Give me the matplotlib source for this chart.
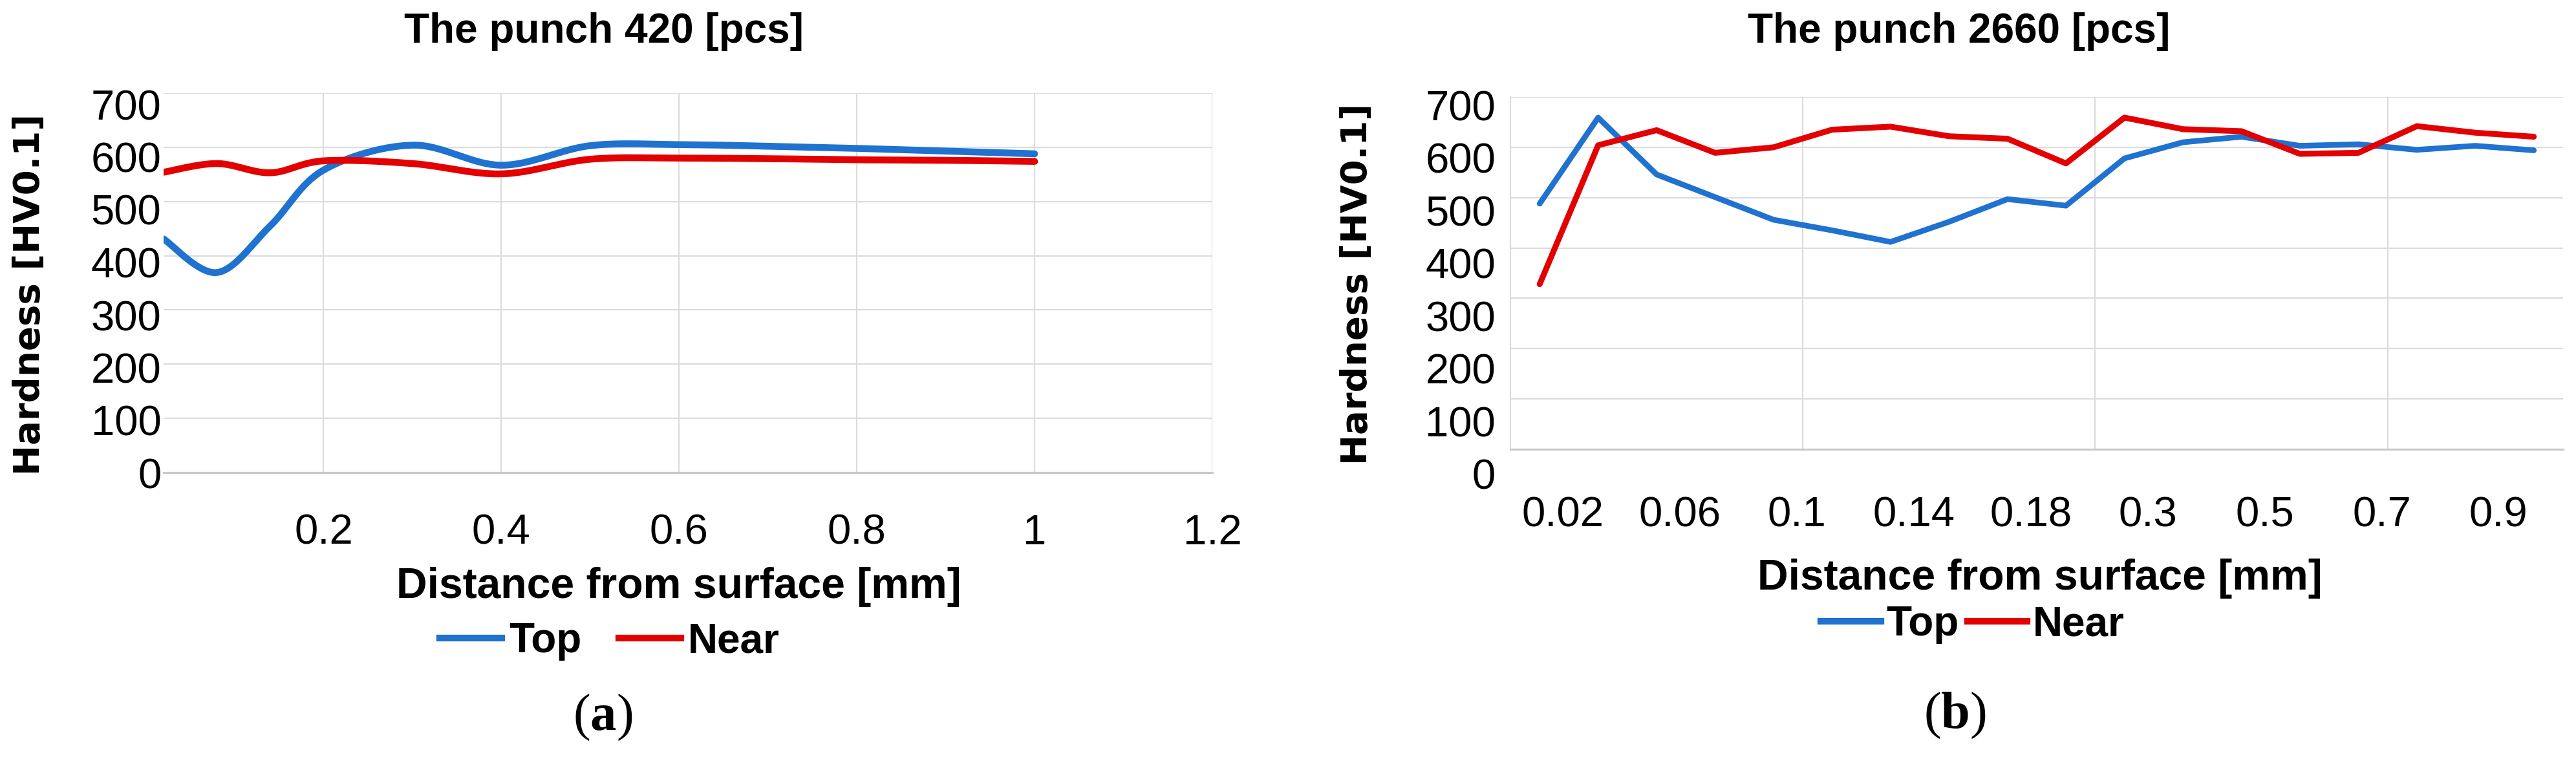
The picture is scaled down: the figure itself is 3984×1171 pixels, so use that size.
import numpy as np
import matplotlib
matplotlib.use('Agg')
import matplotlib.pyplot as plt
from matplotlib.lines import Line2D
import matplotlib.transforms as mtransforms

W, H = 3984, 1171
DPI = 100

# ---------------- data ----------------
left_x = [0.02, 0.08, 0.14, 0.2, 0.3, 0.4, 0.5, 0.6, 0.7, 0.8, 0.9, 1.0]
left_top = [431, 369, 455, 558, 604, 567, 603, 605, 602, 598, 593, 588]
left_near = [554, 570, 553, 575, 570, 551, 578, 580, 579, 577, 576, 574]

right_cats = ['0.02', '0.04', '0.06', '0.08', '0.1', '0.12', '0.14', '0.16', '0.18',
              '0.2', '0.3', '0.4', '0.5', '0.6', '0.7', '0.8', '0.9', '1']
right_top = [488, 659, 546, 501, 456, 435, 412, 452, 497, 484, 578, 610, 621, 603, 606, 595, 603, 594]
right_near = [328, 604, 634, 589, 600, 635, 641, 622, 617, 568, 659, 636, 632, 587, 589, 642, 629, 621]

left_xticks = [0.2, 0.4, 0.6, 0.8, 1.0, 1.2]
left_xticklabels = ['0.2', '0.4', '0.6', '0.8', '1', '1.2']
y_ticks = [0, 100, 200, 300, 400, 500, 600, 700]

titles = ['The punch 420 [pcs]', 'The punch 2660 [pcs]']
ylabel = 'Hardness [HV0.1]'
xlabel = 'Distance from surface [mm]'
series_names = ['Top', 'Near']
captions = ['a', 'b']

BLUE = '#1f72cf'
RED = '#e30000'
GRID = '#dcdcdc'
AXIS = '#c9c9c9'

plt.rcParams['mathtext.fontset'] = 'custom'
plt.rcParams['mathtext.rm'] = 'Liberation Serif'
plt.rcParams['mathtext.bf'] = 'Liberation Serif:bold'

SANS = ['Liberation Sans', 'DejaVu Sans']

fig = plt.figure(figsize=(W / DPI, H / DPI), dpi=DPI)
fig.patch.set_facecolor('white')


def px_axes(x0, y0, x1, y1, **kw):
    return fig.add_axes([x0 / W, 1 - y1 / H, (x1 - x0) / W, (y1 - y0) / H], **kw)


def smooth(x, y, sx, sy, n=60):
    """Excel-like smoothed line (Bezier through the points)."""
    P = np.column_stack([np.asarray(x, float) * sx, np.asarray(y, float) * sy])
    E = np.vstack([P[0], P, P[-1]])
    out = []
    for i in range(len(P) - 1):
        p0, p1, p2, p3 = E[i], E[i + 1], E[i + 2], E[i + 3]
        c1 = p1 + (p2 - p0) / 6
        c2 = p2 - (p3 - p1) / 6
        t = np.linspace(0, 1, n)[:, None]
        b = (1 - t) ** 3 * p1 + 3 * (1 - t) ** 2 * t * c1 + 3 * (1 - t) * t ** 2 * c2 + t ** 3 * p2
        out.append(b)
    B = np.vstack(out)
    return B[:, 0] / sx, B[:, 1] / sy


def style_axes(ax):
    for s in ['top', 'right', 'left']:
        ax.spines[s].set_visible(False)
    ax.spines['bottom'].set_color(AXIS)
    ax.spines['bottom'].set_linewidth(2.2)
    ax.tick_params(length=0)
    ax.set_ylim(0, 700)
    ax.set_yticks(y_ticks)
    ax.yaxis.grid(True, color=GRID, linewidth=1.6)
    ax.set_axisbelow(True)
    ax.tick_params(axis='y', labelleft=False)


def label_axes(x0, y0, x1, y1, pad):
    la = px_axes(x0, y0, x1, y1, frameon=False)
    la.set_ylim(0, 700)
    la.set_yticks(y_ticks)
    la.set_xticks([])
    la.tick_params(length=0, pad=pad, labelsize=47)
    for t in la.get_yticklabels():
        t.set_family(SANS)
    la.patch.set_visible(False)
    return la


# ---------------- left panel ----------------
ax1 = px_axes(253, 144, 1875, 731)
style_axes(ax1)
ax1.set_xlim(0.02, 1.2)
ax1.set_xticks(left_xticks)
ax1.set_xticklabels(left_xticklabels)
ax1.xaxis.grid(True, color=GRID, linewidth=1.6)
ax1.tick_params(axis='x', pad=46, labelsize=47)
for t in ax1.get_xticklabels():
    t.set_family(SANS)
sx, sy = 1375.0, 0.838
xt, yt = smooth(left_x, left_top, sx, sy)
xn, yn = smooth(left_x, left_near, sx, sy)
ax1.plot(xt, yt, color=BLUE, lw=7.6, solid_capstyle='round', solid_joinstyle='round', zorder=3)
ax1.plot(xn, yn, color=RED, lw=7.6, solid_capstyle='round', solid_joinstyle='round', zorder=4)
label_axes(253, 161.5, 1875, 732, pad=2.5)

# ---------------- right panel ----------------
ax2 = px_axes(2336, 150, 3964, 695)
style_axes(ax2)
idx = np.arange(len(right_cats))
ax2.set_xlim(-0.5, len(right_cats) - 0.5)
ax2.set_xticks(idx[::2])
ax2.set_xticklabels(right_cats[::2])
ax2.set_xticks([4.5, 9.5, 14.5], minor=True)
ax2.xaxis.grid(True, which='minor', color=GRID, linewidth=1.6)
ax2.tick_params(axis='x', which='both', length=0, pad=52, labelsize=47)
ax2.spines['left'].set_visible(True)
ax2.spines['left'].set_color(GRID)
ax2.spines['left'].set_linewidth(1.6)
off = mtransforms.ScaledTranslation(36 / DPI, 0, fig.dpi_scale_trans)
for t in ax2.get_xticklabels():
    t.set_family(SANS)
    t.set_transform(t.get_transform() + off)
ax2.plot(idx, right_top, color=BLUE, lw=6.3, solid_capstyle='round', solid_joinstyle='round', zorder=3)
ax2.plot(idx, right_near, color=RED, lw=6.5, solid_capstyle='round', solid_joinstyle='round', zorder=4)
label_axes(2336, 163, 3964, 733, pad=16.5)

# ---------------- texts ----------------
fig.text(934 / W, 1 - 66 / H, titles[0], ha='center', va='baseline', fontsize=46,
         fontweight='bold', family=SANS)
fig.text(3030 / W, 1 - 66 / H, titles[1], ha='center', va='baseline', fontsize=46,
         fontweight='bold', family=SANS)

fig.text(46 / W, 1 - 455 / H, ylabel, rotation=90, ha='center', va='center', fontsize=40.5,
         fontweight='bold', family=['DejaVu Sans'])
fig.text(2099 / W, 1 - 439 / H, ylabel, rotation=90, ha='center', va='center', fontsize=40.5,
         fontweight='bold', family=['DejaVu Sans'])

fig.text(1050 / W, 1 - 925 / H, xlabel, ha='center', va='baseline', fontsize=47.5,
         fontweight='bold', family=SANS)
fig.text(3155 / W, 1 - 912 / H, xlabel, ha='center', va='baseline', fontsize=47.5,
         fontweight='bold', family=SANS)

handles = [Line2D([], [], color=BLUE, lw=7.4), Line2D([], [], color=RED, lw=7.4)]
leg_prop = dict(family=SANS, weight='bold', size=46)
fig.legend(handles, series_names, loc='center', bbox_to_anchor=(943 / W, 1 - 992 / H), ncol=2,
           frameon=False, handlelength=1.5, handletextpad=0.17, columnspacing=0.9,
           prop=leg_prop, borderpad=0, borderaxespad=0)
fig.legend(handles, series_names, loc='center', bbox_to_anchor=(3051 / W, 1 - 966 / H), ncol=2,
           frameon=False, handlelength=1.45, handletextpad=0.14, columnspacing=0.2,
           prop=leg_prop, borderpad=0, borderaxespad=0)

fig.text(932 / W, 1 - 1110 / H, r'($\mathbf{%s}$)' % captions[0], ha='center', va='center',
         fontsize=58, family=['Liberation Serif', 'DejaVu Serif'])
fig.text(3023 / W, 1 - 1107 / H, r'($\mathbf{%s}$)' % captions[1], ha='center', va='center',
         fontsize=58, family=['Liberation Serif', 'DejaVu Serif'])

fig.savefig('out.png', dpi=DPI, facecolor='white')
